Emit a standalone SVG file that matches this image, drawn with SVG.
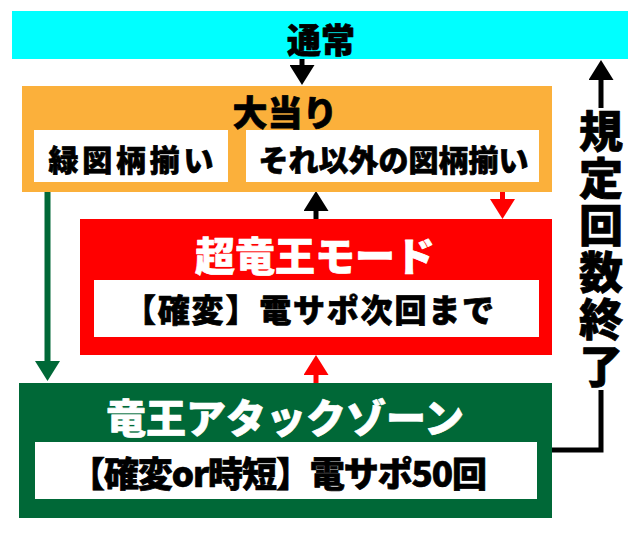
<svg xmlns="http://www.w3.org/2000/svg" width="640" height="535" viewBox="0 0 640 535">
<style>
text{font-family:"Noto Sans CJK JP","Noto Sans CJK SC",sans-serif;font-weight:900;dominant-baseline:central;stroke-width:0.7px;stroke-linejoin:round}
.c{text-anchor:middle}
.k{fill:#000;stroke:#000}
.w{fill:#fff;stroke:#fff}
.v{writing-mode:vertical-rl;letter-spacing:3px}
.lk{stroke:#000;stroke-width:5;fill:none}
.lr{stroke:#f00;stroke-width:5;fill:none}
.lg{stroke:#006837;stroke-width:6;fill:none}
</style>
<defs>
<marker id="ak" markerUnits="userSpaceOnUse" markerWidth="20" markerHeight="25" viewBox="0 0 20 25" refX="0" refY="12.5" orient="auto"><path d="M0,0 L20,12.5 L0,25 Z" fill="#000"/></marker>
<marker id="ar" markerUnits="userSpaceOnUse" markerWidth="20" markerHeight="25" viewBox="0 0 20 25" refX="0" refY="12.5" orient="auto"><path d="M0,0 L20,12.5 L0,25 Z" fill="#f00"/></marker>
<marker id="ag" markerUnits="userSpaceOnUse" markerWidth="20" markerHeight="25" viewBox="0 0 20 25" refX="0" refY="12.5" orient="auto"><path d="M0,0 L20,12.5 L0,25 Z" fill="#006837"/></marker>
</defs>
<g id="connectors">
<path class="lk" d="M302,59 V65" marker-end="url(#ak)"/>
<path class="lg" d="M47.5,182 V361" marker-end="url(#ag)"/>
<path class="lr" d="M502.5,182 V199" marker-end="url(#ar)"/>
<path class="lk" d="M316,219 V211" marker-end="url(#ak)"/>
<path class="lr" d="M316,383 V375" marker-end="url(#ar)"/>
<path class="lk" d="M552,450 H601 V390 M601,108 V80" marker-end="url(#ak)"/>
<text class="k v" x="601" y="109" font-size="44">規定回数終了</text>
</g>
<g id="normal">
<rect x="12" y="11" width="616" height="48" fill="#00ffff"/>
<text class="c k" x="321" y="38.5" font-size="34">通常</text>
</g>
<g id="oatari">
<rect x="22" y="86" width="530" height="106" fill="#fbb03b"/>
<text class="c k" x="285" y="110" font-size="35">大当り</text>
<g id="green-zorome">
<rect x="34" y="130" width="194" height="52" fill="#fff"/>
<text class="c k" x="131" y="158" font-size="30" textLength="165">緑図柄揃い</text>
</g>
<g id="other-zorome">
<rect x="246" y="130" width="293" height="52" fill="#fff"/>
<text class="c k" x="393.5" y="158" font-size="30">それ以外の図柄揃い</text>
</g>
</g>
<g id="super-ryuo">
<rect x="80" y="219" width="472" height="136" fill="#f00"/>
<text class="c w" x="315" y="254" font-size="40">超竜王モード</text>
<rect x="94" y="280" width="445" height="57" fill="#fff"/>
<text class="k" x="124" y="308" font-size="32" textLength="370">【確変】電サポ次回まで</text>
</g>
<g id="ryuo-attack">
<rect x="19" y="383" width="533" height="135" fill="#006837"/>
<text class="c w" x="285" y="415.5" font-size="40">竜王アタックゾーン</text>
<rect x="35" y="442" width="502" height="57" fill="#fff"/>
<text class="k" x="70" y="471" font-size="35" textLength="417">【確変or時短】電サポ50回</text>
</g>
</svg>
